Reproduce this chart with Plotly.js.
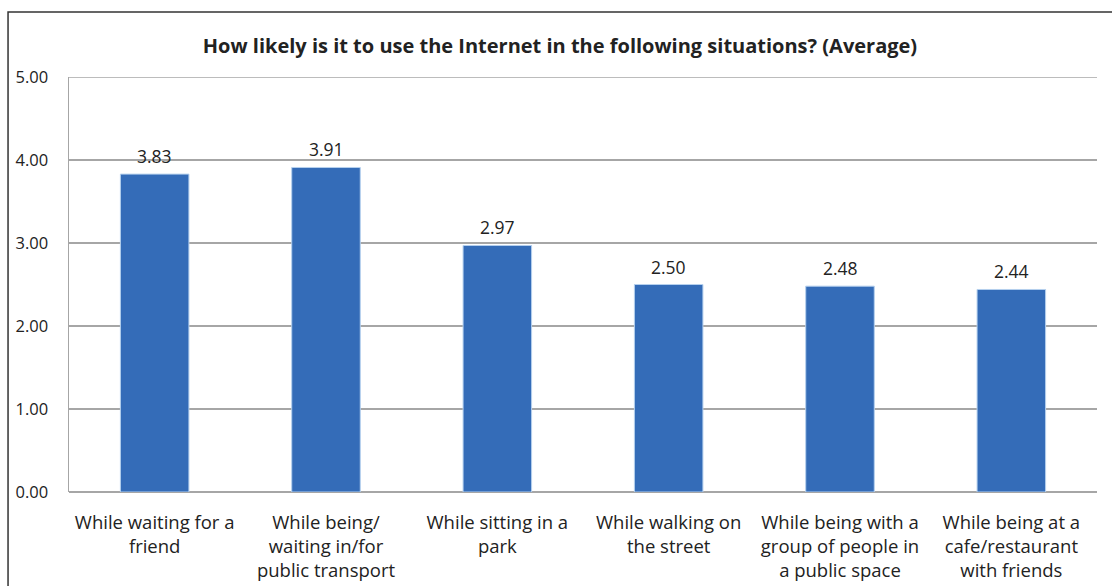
<!DOCTYPE html>
<html><head><meta charset="utf-8">
<script src="https://cdn.plot.ly/plotly-3.0.1.min.js"></script>
<style>html,body{margin:0;padding:0;background:#fff;}#chart{width:1112px;height:586px;}</style>
</head><body><div id="chart"></div>
<script>
const categories = [
  "While waiting for a<br>friend",
  "While being/<br>waiting in/for<br>public transport",
  "While sitting in a<br>park",
  "While walking on<br>the street",
  "While being with a<br>group of people in<br>a public space",
  "While being at a<br>cafe/restaurant<br>with friends"
];
const averages = [3.83, 3.91, 2.97, 2.50, 2.48, 2.44];
const yTicks = [0, 1, 2, 3, 4, 5];
const yTickLabels = ["0.00", "1.00", "2.00", "3.00", "4.00", "5.00"];
const chartTitle = "How likely is it to use the Internet in the following situations? (Average)";

const FONT = "'Open Sans', Lato, sans-serif";

const trace = {
  type: "bar",
  x: categories,
  y: averages,
  width: 0.4,
  marker: {color: "#346cb8", line: {color: "#b5d0ee", width: 1}},
  hoverinfo: "x+y"
};

const valueLabels = categories.map((c, i) => ({
  x: c, y: averages[i], xref: "x", yref: "y",
  text: averages[i].toFixed(2), showarrow: false,
  yanchor: "bottom", yshift: 4,
  font: {family: FONT, size: 17.5, color: "#222"}
}));

const layout = {
  width: 1112, height: 586,
  margin: {l: 69, r: 15, t: 77, b: 94},
  paper_bgcolor: "#fff", plot_bgcolor: "#fff",
  showlegend: false,
  title: {
    text: "<b>" + chartTitle + "</b>",
    font: {family: FONT, size: 20, color: "#222"},
    xref: "paper", x: 0.4776, xanchor: "center",
    yref: "container", y: 0.922, yanchor: "middle"
  },
  xaxis: {
    type: "category",
    tickfont: {family: FONT, size: 18.5, color: "#222"},
    showgrid: false, showline: false, zeroline: false,
    ticks: "outside", ticklen: 14, tickcolor: "rgba(0,0,0,0)",
    tickangle: 0
  },
  yaxis: {
    range: [0, 5],
    tickvals: yTicks, ticktext: yTickLabels,
    tickfont: {family: FONT, size: 16.5, color: "#222"},
    showgrid: true, gridcolor: "#a6a6a6", gridwidth: 1.5,
    zeroline: true, zerolinecolor: "#a6a6a6", zerolinewidth: 1.5,
    showline: true, linecolor: "#a6a6a6", linewidth: 1.5,
    ticks: "outside", ticklen: 16, tickcolor: "rgba(0,0,0,0)"
  },
  annotations: valueLabels,
  shapes: [
    {type: "line", xref: "paper", yref: "y", x0: 0, x1: 1, y0: yTicks[yTicks.length - 1], y1: yTicks[yTicks.length - 1],
     line: {color: "#a6a6a6", width: 1.5}, layer: "below"},
    {type: "rect", xref: "paper", yref: "paper",
     x0: -0.0593, x1: 1.2, y0: -0.6, y1: 1.1566,
     line: {color: "#333", width: 1.5}, fillcolor: "rgba(0,0,0,0)", layer: "below"}
  ],
  font: {family: FONT}
};

Plotly.newPlot("chart", [trace], layout, {displayModeBar: false, staticPlot: true});
</script></body></html>
